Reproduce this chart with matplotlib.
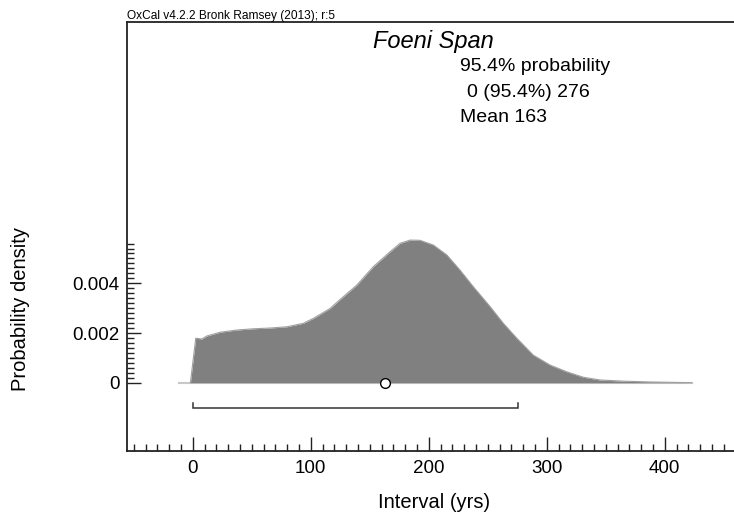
import matplotlib
matplotlib.use("Agg")
import matplotlib.pyplot as plt
import numpy as np

plt.rcParams['font.family'] = ['Liberation Sans', 'DejaVu Sans']

# Data
interval_yrs = [-2, 2.5, 7.6, 11.9, 23.1, 37.3, 51.4, 65.5, 79.7, 93.7, 102.2, 116.4,
                125.1, 139.0, 153.0, 167.2, 175.7, 184.2, 192.6, 203.9, 215.3, 226.5,
                237.8, 252.0, 263.2, 274.6, 288.6, 302.8, 316.9, 331.0, 345.2, 366.3,
                387.5, 422.9]
density = [0.0, 0.00179, 0.00176, 0.00188, 0.00203, 0.00212, 0.00217, 0.00220,
           0.00225, 0.00239, 0.00259, 0.00299,
           0.00336, 0.00393, 0.00467, 0.00527, 0.00561, 0.00574, 0.00573, 0.00554,
           0.00514, 0.00453, 0.00386, 0.00306, 0.00239, 0.00179, 0.00111, 0.00071,
           0.00044, 0.00022, 0.00011, 0.00006, 0.00003, 0.0]
baseline_range = [-12, 423]
range_954 = [0, 276]
mean_val = 163
title = "Foeni Span"
summary_lines = ["95.4% probability", "0 (95.4%) 276", "Mean 163"]
header = "OxCal v4.2.2 Bronk Ramsey (2013); r:5"
x_major = [0, 100, 200, 300, 400]
y_major = [0, 0.002, 0.004]
y_major_labels = ["0", "0.002", "0.004"]

W, H = 734, 513
fig = plt.figure(figsize=(W / 100, H / 100), dpi=100)

def fx(px):
    return px / W

def fy(py):
    return 1 - py / H

ax = fig.add_axes([fx(126.7), fy(450.7), fx(734) - fx(126.7), fy(22) - fy(450.7)])
ax.set_xlim(-56, 458.7)
ax.set_ylim(-0.002736, 0.014515)

# baseline
ax.plot(baseline_range, [0, 0], color='#c8c8c8', lw=1.5, zorder=1)
# density
ax.fill_between(interval_yrs, 0, density, color='#808080', lw=0, zorder=2)
ax.plot(interval_yrs, density, color='#a0a0a0', lw=0.8, zorder=3)

# range bracket
yb, yt = -0.00103, -0.00080
ax.plot([range_954[0], range_954[0], range_954[1], range_954[1]], [yt, yb, yb, yt],
        color='#333333', lw=1.1, zorder=3, solid_joinstyle='miter')

# mean marker
ax.plot([mean_val], [0], marker='o', ms=7, mfc='white', mec='black', mew=1.0, zorder=5)

# spines
ax.spines['right'].set_visible(False)
for s in ['left', 'bottom', 'top']:
    ax.spines[s].set_linewidth(1.3)
    ax.spines[s].set_color('#222222')

# ticks
ax.set_xticks(x_major)
ax.set_xticklabels([str(v) for v in x_major])
ax.set_xticks(np.arange(-50, 459, 10), minor=True)
ax.set_yticks(y_major)
ax.set_yticklabels(y_major_labels)
ax.set_yticks(np.arange(0, 0.00561, 0.0002), minor=True)
ax.tick_params(axis='both', which='major', direction='in', length=10, width=1.0,
               labelsize=13.5, color='#222222')
ax.tick_params(axis='both', which='minor', direction='in', length=5, width=1.0,
               color='#222222')
ax.tick_params(axis='x', which='major', pad=7)
ax.tick_params(axis='y', which='major', pad=5)
ax.tick_params(top=False, right=False, which='both')

# labels
fig.text(fx(434), fy(503), "Interval (yrs)", ha='center', va='center', fontsize=14.5)
fig.text(fx(21), fy(309), "Probability density", ha='center', va='center',
         rotation=90, fontsize=14.5)

# annotations
fig.text(fx(373), fy(48), title, style='italic', fontsize=17, ha='left', va='baseline')
fig.text(fx(460), fy(71), summary_lines[0], fontsize=14, ha='left', va='baseline')
fig.text(fx(467), fy(97), summary_lines[1], fontsize=14, ha='left', va='baseline')
fig.text(fx(460), fy(122), summary_lines[2], fontsize=14, ha='left', va='baseline')
fig.text(fx(127), fy(18.5), header, fontsize=8.6, ha='left', va='baseline')

fig.savefig("out.png", dpi=100)
